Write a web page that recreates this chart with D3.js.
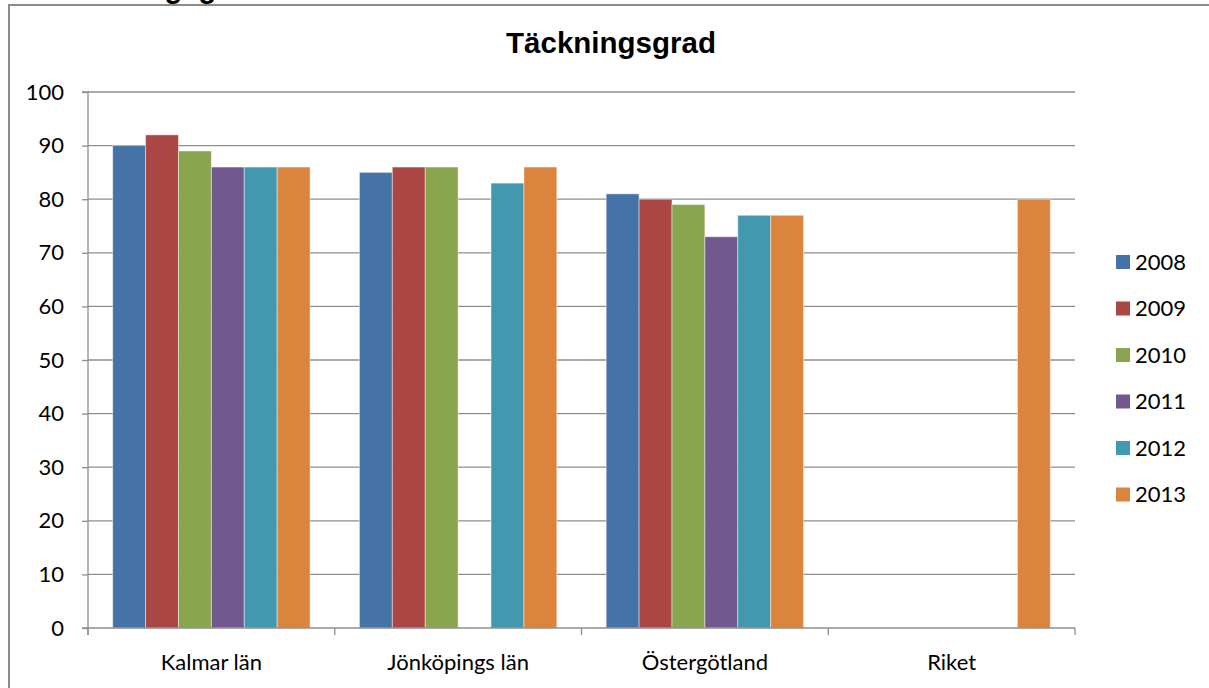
<!DOCTYPE html>
<html>
<head>
<meta charset="utf-8">
<script src="https://cdn.jsdelivr.net/npm/d3@7"></script>
<style>
  html, body { margin: 0; padding: 0; background: #fff; }
  svg { display: block; }
</style>
</head>
<body>
<svg id="chart" width="1209" height="688"></svg>
<script>
// Coverage rate per region and year
const regions = ["Kalmar län", "Jönköpings län", "Östergötland", "Riket"];
const years = ["2008", "2009", "2010", "2011", "2012", "2013"];
const values2008 = [90, 85, 81, null];
const values2009 = [92, 86, 80, null];
const values2010 = [89, 86, 79, null];
const values2011 = [86, null, 73, null];
const values2012 = [86, 83, 77, null];
const values2013 = [86, 86, 77, 80];
const yTicks = [0, 10, 20, 30, 40, 50, 60, 70, 80, 90, 100];
const colors = ["#4572A7", "#AA4643", "#89A54E", "#71588F", "#4198AF", "#DB843D"];

const seriesValues = [values2008, values2009, values2010, values2011, values2012, values2013];

const svg = d3.select("#chart");
const labelFont = "Lato, 'Open Sans', sans-serif";

// Outer frame of the chart area
svg.append("path")
  .attr("d", "M9,700 L9,5 L1215,5")
  .attr("fill", "none")
  .attr("stroke", "#8c8c8c")
  .attr("stroke-width", 2);

// Heading above the chart, mostly cut off at the top edge
svg.append("text")
  .attr("x", 55).attr("y", -2)
  .attr("font-family", "'Liberation Sans', Arial, sans-serif")
  .attr("font-weight", "bold")
  .attr("font-size", 29)
  .text("Täckningsgrad");

const margin = { left: 88, right: 1075, top: 92, bottom: 628 };

const x0 = d3.scaleBand().domain(regions).range([margin.left, margin.right]).paddingInner(0).paddingOuter(0);
// Bars occupy 6 of 7.5 units of each band (150% gap)
const groupWidth = x0.bandwidth() * 6 / 7.5;
const groupOffset = (x0.bandwidth() - groupWidth) / 2;
const x1 = d3.scaleBand().domain(years).range([groupOffset, groupOffset + groupWidth]).padding(0);

const y = d3.scaleLinear().domain([0, 100]).range([margin.bottom, margin.top]);

// Gridlines
svg.append("g")
  .selectAll("line")
  .data(yTicks.filter(d => d > 0))
  .join("line")
  .attr("x1", margin.left).attr("x2", margin.right)
  .attr("y1", d => y(d)).attr("y2", d => y(d))
  .attr("stroke", "#8e8e8e")
  .attr("stroke-width", 1.3);

// Bars
const barData = [];
seriesValues.forEach((vals, si) => {
  vals.forEach((v, ri) => {
    if (v !== null) barData.push({ region: regions[ri], year: years[si], value: v, color: colors[si] });
  });
});

svg.append("g")
  .selectAll("rect")
  .data(barData)
  .join("rect")
  .attr("x", d => x0(d.region) + x1(d.year))
  .attr("width", x1.bandwidth())
  .attr("y", d => y(d.value))
  .attr("height", d => y(0) - y(d.value))
  .attr("fill", d => d.color)
  .attr("stroke", "rgba(255,255,255,0.45)")
  .attr("stroke-width", 1);

// Y axis
const yAxis = d3.axisLeft(y).tickValues(yTicks).tickSize(6).tickPadding(18);
const gy = svg.append("g").attr("transform", `translate(${margin.left},0)`).call(yAxis);
gy.select(".domain").attr("stroke", "#8e8e8e").attr("stroke-width", 1.3)
  .attr("d", `M-6,${margin.top}H0V${margin.bottom + 7}`);
gy.selectAll(".tick line").attr("stroke", "#8e8e8e").attr("stroke-width", 1.3);
gy.selectAll(".tick text")
  .attr("font-family", labelFont)
  .attr("font-size", 22)
  .attr("fill", "#000");

// X axis with ticks at category boundaries
const gx = svg.append("g").attr("transform", `translate(0,${margin.bottom})`);
gx.append("line")
  .attr("x1", margin.left - 6).attr("x2", margin.right)
  .attr("stroke", "#8e8e8e").attr("stroke-width", 1.3);
const boundaries = regions.map(r => x0(r)).concat([margin.right]);
gx.selectAll("line.bt")
  .data(boundaries)
  .join("line")
  .attr("class", "bt")
  .attr("x1", d => d).attr("x2", d => d)
  .attr("y1", 0).attr("y2", 7)
  .attr("stroke", "#8e8e8e").attr("stroke-width", 1.3);
gx.selectAll("text")
  .data(regions)
  .join("text")
  .attr("x", d => x0(d) + x0.bandwidth() / 2)
  .attr("y", 42)
  .attr("text-anchor", "middle")
  .attr("font-family", labelFont)
  .attr("font-size", 22)
  .attr("fill", "#000")
  .text(d => d);

// Title
svg.append("text")
  .attr("x", 611).attr("y", 53)
  .attr("text-anchor", "middle")
  .attr("font-family", "'Liberation Sans', Arial, sans-serif")
  .attr("font-weight", "bold")
  .attr("font-size", 29.5)
  .attr("fill", "#000")
  .text("Täckningsgrad");

// Legend
const legend = svg.append("g").attr("transform", "translate(1116,262)");
const rows = legend.selectAll("g")
  .data(years)
  .join("g")
  .attr("transform", (d, i) => `translate(0,${i * 46.5})`);
rows.append("rect")
  .attr("x", 0).attr("y", -7)
  .attr("width", 14).attr("height", 14)
  .attr("fill", (d, i) => colors[i]);
rows.append("text")
  .attr("x", 19).attr("y", 0)
  .attr("dy", "0.35em")
  .attr("font-family", labelFont)
  .attr("font-size", 22)
  .attr("fill", "#000")
  .text(d => d);
</script>
</body>
</html>
